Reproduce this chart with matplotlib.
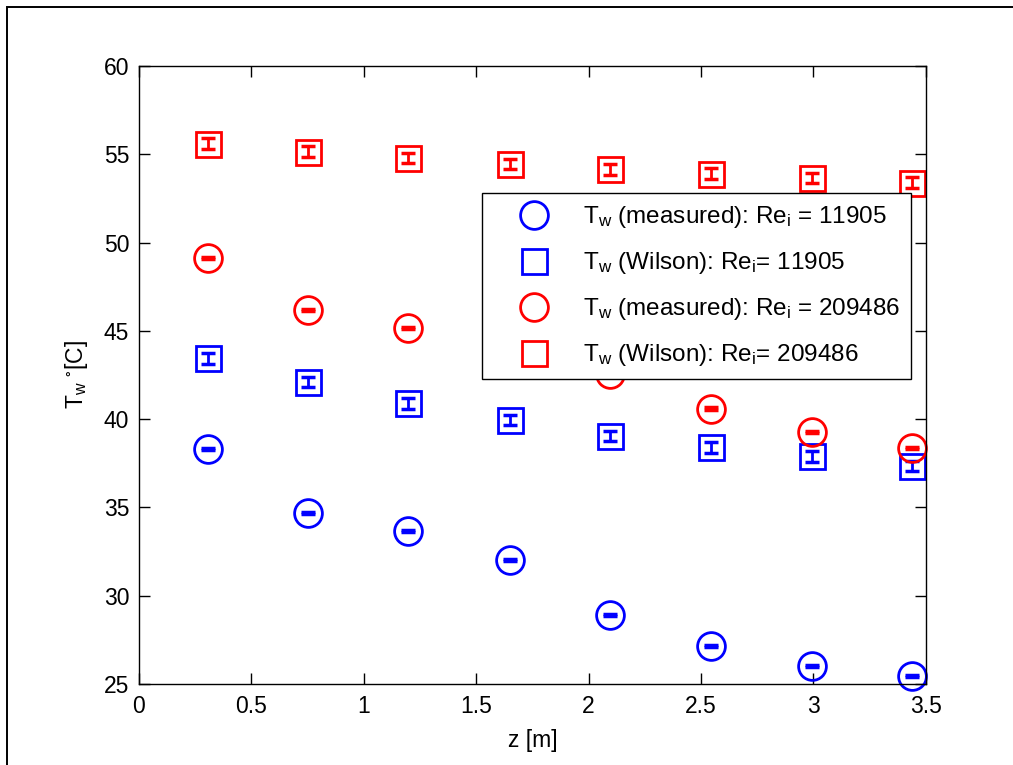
import numpy as np
import matplotlib
matplotlib.use("Agg")
import matplotlib.pyplot as plt
from matplotlib.patches import Rectangle

plt.rcParams['font.family'] = ['Liberation Sans', 'DejaVu Sans']
plt.rcParams['mathtext.fontset'] = 'custom'
plt.rcParams['mathtext.rm'] = 'Liberation Sans'
plt.rcParams['mathtext.it'] = 'Liberation Sans'
plt.rcParams['mathtext.default'] = 'regular'

# axial positions along the tube
z = [0.305, 0.75, 1.195, 1.65, 2.095, 2.545, 2.995, 3.44]

# wall temperatures, low Reynolds number
tw_meas_lo = [38.3, 34.7, 33.65, 32.0, 28.9, 27.15, 26.0, 25.45]
tw_wil_lo = [43.45, 42.1, 40.9, 39.95, 39.05, 38.4, 37.9, 37.35]
# wall temperatures, high Reynolds number
tw_meas_hi = [49.15, 46.2, 45.15, 43.9, 42.55, 40.6, 39.25, 38.35]
tw_wil_hi = [55.6, 55.15, 54.8, 54.45, 54.15, 53.9, 53.65, 53.4]

err_meas = [0.06] * 8
err_wil = [0.3] * 8

labels = [r'T$_w$ (measured): Re$_i$ = 11905',
          r'T$_w$ (Wilson): Re$_i$= 11905',
          r'T$_w$ (measured): Re$_i$ = 209486',
          r'T$_w$ (Wilson): Re$_i$= 209486']

fig = plt.figure(figsize=(10.13, 7.65), dpi=100)
ax = fig.add_axes([0.1372, 0.1059, 0.7768, 0.8078])

series = [(tw_meas_lo, err_meas, 'o', 'blue', 20),
          (tw_wil_lo, err_wil, 's', 'blue', 18),
          (tw_meas_hi, err_meas, 'o', 'red', 20),
          (tw_wil_hi, err_wil, 's', 'red', 18)]

for (y, e, m, c, ms), lab in zip(series, labels):
    ax.errorbar(z, y, yerr=e, fmt='none', ecolor=c, elinewidth=2,
                capsize=5, capthick=2.5, clip_on=False)
    ax.plot(z, y, linestyle='none', marker=m, markersize=ms,
            markerfacecolor='none', markeredgecolor=c, markeredgewidth=2,
            label=lab, clip_on=False)

ax.set_xlim(0, 3.5)
ax.set_ylim(25, 60)
ax.set_xticks(np.arange(0, 3.51, 0.5))
ax.set_xticklabels(['0', '0.5', '1', '1.5', '2', '2.5', '3', '3.5'])
ax.set_yticks(np.arange(25, 61, 5))
ax.tick_params(direction='in', length=8, width=1, labelsize=16.5,
               top=True, right=True)
ax.tick_params(axis='x', pad=8)
ax.tick_params(axis='y', pad=7)
for sp in ax.spines.values():
    sp.set_linewidth(1)

ax.set_xlabel('z [m]', fontsize=16.5, labelpad=8)
ax.set_ylabel(r'T$_w$ $^{\circ}$[C]', fontsize=16.5, labelpad=10)

leg = ax.legend(loc='upper left', bbox_to_anchor=(0.436, 0.794),
                fontsize=17.5, frameon=True, fancybox=False,
                edgecolor='black', framealpha=1, borderpad=0.45,
                labelspacing=0.82, handletextpad=0.3, handlelength=3.4,
                borderaxespad=0)
leg.get_frame().set_linewidth(1)
leg.set_zorder(5)

# outer frame around the figure
fig.patches.append(Rectangle((7 / 1013, -0.05), 1.1, 1.05 - 7 / 765,
                             transform=fig.transFigure, fill=False,
                             edgecolor='black', linewidth=1.4))

fig.savefig('out.png', dpi=100)
